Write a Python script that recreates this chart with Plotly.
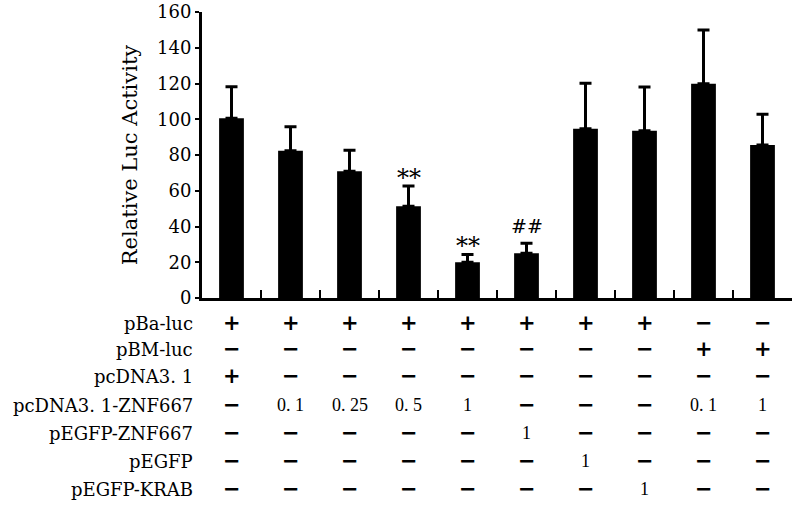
import plotly.graph_objects as go

# ---- data ----
groups = list(range(10))
means = [100.5, 82.4, 70.9, 51.3, 20.0, 25.0, 94.7, 93.6, 119.9, 85.6]
sds = [17.7, 13.4, 11.7, 11.4, 4.4, 5.6, 25.4, 24.4, 30.0, 17.2]
signif = ["", "", "", "**", "**", "##", "", "", "", ""]

y_ticks = [0, 20, 40, 60, 80, 100, 120, 140, 160]

row_labels = ["pBa-luc", "pBM-luc", "pcDNA3. 1", "pcDNA3. 1-ZNF667",
              "pEGFP-ZNF667", "pEGFP", "pEGFP-KRAB"]
pBa_luc = ["+", "+", "+", "+", "+", "+", "+", "+", "−", "−"]
pBM_luc = ["−", "−", "−", "−", "−", "−", "−", "−", "+", "+"]
pcDNA = ["+", "−", "−", "−", "−", "−", "−", "−", "−", "−"]
pcDNA_ZNF667 = ["−", "0. 1", "0. 25", "0. 5", "1", "−", "−", "−", "0. 1", "1"]
pEGFP_ZNF667 = ["−", "−", "−", "−", "−", "1", "−", "−", "−", "−"]
pEGFP = ["−", "−", "−", "−", "−", "−", "1", "−", "−", "−"]
pEGFP_KRAB = ["−", "−", "−", "−", "−", "−", "−", "1", "−", "−"]
table_rows = [pBa_luc, pBM_luc, pcDNA, pcDNA_ZNF667, pEGFP_ZNF667, pEGFP, pEGFP_KRAB]

# ---- figure ----
fig = go.Figure()
fig.add_trace(go.Bar(
    x=groups, y=means, width=0.42,
    marker=dict(color="black", line=dict(width=0)),
    error_y=dict(type="data", array=sds, arrayminus=[0] * len(sds), symmetric=False,
                 color="black", thickness=3, width=6),
    showlegend=False,
))

SERIF = "DejaVu Serif"
annotations = []
for g, m, s, lab in zip(groups, means, sds, signif):
    if lab:
        star = "*" in lab
        annotations.append(dict(x=g, y=m + s, xref="x", yref="y", text=lab,
                                showarrow=False, yanchor="bottom",
                                yshift=-8 if star else 4,
                                font=dict(family=SERIF, size=24 if star else 19,
                                          color="black")))

row_offsets = [25, 51, 78, 107, 135, 163, 191]
for label, row, off in zip(row_labels, table_rows, row_offsets):
    annotations.append(dict(x=-0.5, y=0, xref="x", yref="paper", text=label,
                            showarrow=False, xanchor="right", yanchor="middle",
                            xshift=-7, yshift=-off,
                            font=dict(family=SERIF, size=18, color="black")))
    for g, v in zip(groups, row):
        if v in ("+", "−"):
            f = dict(family="DejaVu Sans", size=21, color="black", weight="bold")
        else:
            f = dict(family="Liberation Serif", size=18, color="black")
        annotations.append(dict(x=g, y=0, xref="x", yref="paper", text=v,
                                showarrow=False, xanchor="center", yanchor="middle",
                                yshift=-off, font=f))

fig.update_layout(
    width=799, height=508,
    margin=dict(l=202, r=7, t=12, b=210),
    paper_bgcolor="white", plot_bgcolor="white",
    annotations=annotations,
    xaxis=dict(range=[-0.5, 9.5], tickvals=[i + 0.5 for i in groups],
               showticklabels=False, ticks="inside", ticklen=8, tickwidth=2,
               tickcolor="black", showline=True, linecolor="black", linewidth=3,
               showgrid=False, zeroline=False, fixedrange=True, automargin=False),
    yaxis=dict(range=[0, 160], tickvals=y_ticks, ticks="outside", ticklen=4,
               tickwidth=2, tickcolor="black", showline=True, linecolor="black",
               linewidth=3, showgrid=False, zeroline=False, automargin=False,
               tickfont=dict(family=SERIF, size=18, color="black"),
               title=dict(text="Relative Luc Activity", standoff=14,
                          font=dict(family=SERIF, size=21, color="black"))),
)

# remove the default page margin so the figure fills the window exactly
fig.write_html("out.html",
               config={"displayModeBar": False},
               post_script="document.body.style.margin='0px';document.body.style.overflow='hidden';")
